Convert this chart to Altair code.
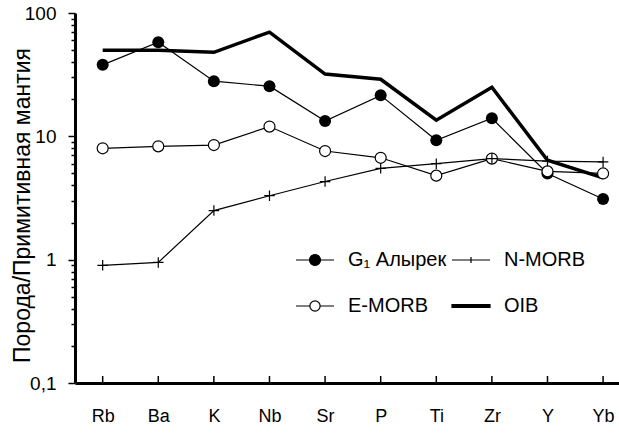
import altair as alt
import pandas as pd

# Element order along the x axis
elements = ["Rb", "Ba", "K", "Nb", "Sr", "P", "Ti", "Zr", "Y", "Yb"]

# Rock / primitive mantle ratios
g1_alyrek = [38, 58, 28, 25.5, 13.3, 21.5, 9.3, 14.0, 5.0, 3.1]
n_morb = [0.9, 0.95, 2.5, 3.3, 4.3, 5.5, 6.0, 6.6, 6.3, 6.2]
e_morb = [8.0, 8.3, 8.5, 12.0, 7.6, 6.7, 4.8, 6.6, 5.2, 5.0]
oib = [50, 50, 48, 70, 32, 29, 13.5, 25, 6.4, 4.6]

series_names = ["G₁ Алырек", "N-MORB", "E-MORB", "OIB"]
series_values = [g1_alyrek, n_morb, e_morb, oib]

rows = []
for name, vals in zip(series_names, series_values):
    for el, v in zip(elements, vals):
        rows.append({"element": el, "series": name, "value": v})
df = pd.DataFrame(rows)

major_ticks = [0.1, 1, 10, 100]
minor_ticks = [0.2, 0.3, 0.4, 0.5, 0.6, 0.7, 0.8, 0.9,
               2, 3, 4, 5, 6, 7, 8, 9,
               20, 30, 40, 50, 60, 70, 80, 90]

FONT = "Liberation Sans"

x_enc = alt.X(
    "element:N",
    sort=elements,
    scale=alt.Scale(type="point", padding=0.392, align=0.635),
    axis=alt.Axis(
        title=None, labelAngle=0, ticks=False, tickSize=0,
        labelPadding=24, labelFontSize=18, labelFont=FONT, labelColor="black",
        domainColor="black", domainWidth=3, grid=False,
    ),
)

y_axis = alt.Axis(
    title="Порода/Примитивная мантия",
    values=major_ticks + minor_ticks,
    labelExpr="datum.value == 0.1 ? '0,1' : datum.value == 1 ? '1' : "
              "datum.value == 10 ? '10' : datum.value == 100 ? '100' : ''",
    labelOverlap=False,
    labelFontSize=19, labelFont=FONT, labelColor="black", labelPadding=12,
    tickSize={"condition": {"test": "indexof([0.1, 1, 10, 100], datum.value) >= 0",
                            "value": 7}, "value": 4},
    tickColor="black", tickWidth=1.5,
    domainColor="black", domainWidth=3, grid=False,
    titleFont=FONT, titleFontSize=23, titleFontWeight="normal", titleColor="black",
    titleAngle=270, titleBaseline="bottom", titleAlign="center",
    titleX=-41, titleY=192,
)
y_scale = alt.Scale(type="log", domain=[0.1, 100])


def y_field(field):
    return alt.Y(f"{field}:Q", scale=y_scale, axis=y_axis)


base = alt.Chart(df)

# Small inward tick marks on the category axis
tick_df = pd.DataFrame({"element": elements, "lo": 0.1, "hi": 0.114})
x_ticks = alt.Chart(tick_df).mark_rule(color="black", strokeWidth=1.5).encode(
    x=x_enc, y=y_field("lo"), y2="hi"
)

thin_lines = base.transform_filter("datum.series != 'OIB'").mark_line(
    color="black", strokeWidth=1.2
).encode(x=x_enc, y=y_field("value"), detail="series:N")

oib_line = base.transform_filter("datum.series == 'OIB'").mark_line(
    color="black", strokeWidth=3.5
).encode(x=x_enc, y=y_field("value"))

g1_points = base.transform_filter("datum.series == 'G₁ Алырек'").mark_point(
    shape="circle", filled=True, size=144, color="black", opacity=1
).encode(x=x_enc, y=y_field("value"))

e_points = base.transform_filter("datum.series == 'E-MORB'").mark_point(
    shape="circle", filled=True, size=121, fill="white", stroke="black",
    strokeWidth=1.2, opacity=1
).encode(x=x_enc, y=y_field("value"))

n_points = base.transform_filter("datum.series == 'N-MORB'").mark_point(
    shape="M-1,0H1M0,-1V1", filled=False, size=110, stroke="black",
    strokeWidth=1.2, opacity=1
).encode(x=x_enc, y=y_field("value"))

# Legend symbols: a line segment with the series marker
legend_paths = [
    "M-1,0H1M-0.29,0A0.29,0.29,0,1,1,0.29,0A0.29,0.29,0,1,1,-0.29,0Z",
    "M-1,0H1M0,-0.16V0.16",
    "M-1,0H-0.27M0.27,0H1M-0.27,0A0.27,0.27,0,1,1,0.27,0A0.27,0.27,0,1,1,-0.27,0Z",
    "M-1,-0.07H1V0.07H-1Z",
]
legend_fills = ["black", "black", "white", "black"]
legend_strokes = ["black", "black", "black", "black"]

# Entries are placed column by column: G1 / E-MORB left, N-MORB / OIB right
legend_order = ["G₁ Алырек", "E-MORB", "N-MORB", "OIB"]

legend_def = alt.Legend(
    title=None, orient="none", legendX=220, legendY=227, columns=2,
    values=legend_order,
    symbolSize=1444, symbolStrokeWidth=1.2, symbolOpacity=1,
    labelFont=FONT, labelFontSize=20, labelColor="black", labelOffset=13,
    columnPadding=2, rowPadding=16, padding=0, labelLimit=300,
)

legend_layer = base.transform_filter("false").mark_point(
    filled=True, strokeWidth=1.2, opacity=1
).encode(
    x=x_enc, y=y_field("value"),
    shape=alt.Shape("series:N",
                    scale=alt.Scale(domain=series_names, range=legend_paths),
                    legend=legend_def),
    fill=alt.Fill("series:N",
                  scale=alt.Scale(domain=series_names, range=legend_fills),
                  legend=legend_def),
    stroke=alt.Stroke("series:N",
                      scale=alt.Scale(domain=series_names, range=legend_strokes),
                      legend=legend_def),
)

chart = alt.layer(
    x_ticks, thin_lines, oib_line, g1_points, e_points, n_points, legend_layer
).properties(
    width=544, height=370,
    autosize=alt.AutoSizeParams(type="none"),
    padding={"left": 75, "top": 13, "right": 0, "bottom": 51},
    background="white",
).configure_view(stroke=None)

chart.save("out.html", embed_options={"renderer": "svg", "actions": False})
